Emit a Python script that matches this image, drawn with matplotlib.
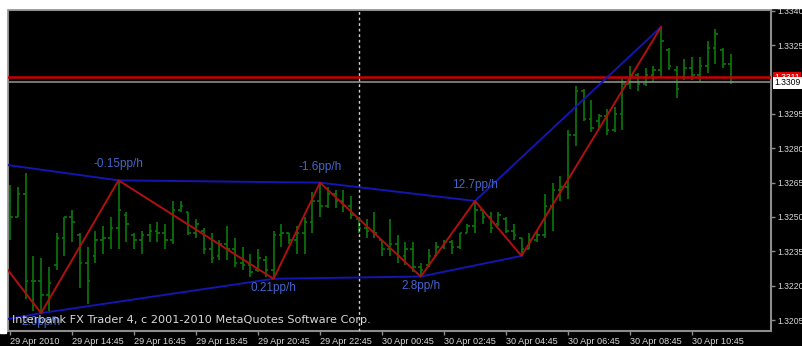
import numpy as np
import matplotlib
matplotlib.use('Agg')
import matplotlib.pyplot as plt
from matplotlib.patches import Rectangle

# EURUSD M15 bars, 29-30 Apr 2010 (bar index 0 = first bar on screen)
opens = [1.3257, 1.3250, 1.3260, 1.3222, 1.3222, 1.3216, 1.3229, 1.3241, 1.3250, 1.3242,
         1.3230, 1.3233, 1.3240, 1.3241, 1.3245, 1.3251, 1.3242, 1.3240, 1.3242, 1.3244,
         1.3243, 1.3240, 1.3253, 1.3252, 1.3243, 1.3244, 1.3236, 1.3233, 1.3238, 1.3236,
         1.3230, 1.3229, 1.3227, 1.3231, 1.3227, 1.3242, 1.3243, 1.3240, 1.3243, 1.3248,
         1.3257, 1.3255, 1.3260, 1.3257, 1.3255, 1.3249, 1.3245, 1.3244, 1.3240, 1.3236,
         1.3238, 1.3233, 1.3236, 1.3228, 1.3229, 1.3233, 1.3237, 1.3239, 1.3237, 1.3243,
         1.3246, 1.3253, 1.3250, 1.3247, 1.3249, 1.3244, 1.3241, 1.3236, 1.3240, 1.3242,
         1.3255, 1.3262, 1.3263, 1.3286, 1.3305, 1.3293, 1.3292, 1.3294, 1.3288, 1.3295,
         1.3308, 1.3312, 1.3308, 1.3312, 1.3314, 1.3323, 1.3314, 1.3311, 1.3315, 1.3312,
         1.3316, 1.3324, 1.3323, 1.3317]
highs = [1.3264, 1.3263, 1.3269, 1.3233, 1.3232, 1.3228, 1.3243, 1.3250, 1.3253, 1.3243,
         1.3237, 1.3244, 1.3246, 1.3250, 1.3266, 1.3252, 1.3243, 1.3244, 1.3247, 1.3248,
         1.3247, 1.3257, 1.3257, 1.3252, 1.3249, 1.3245, 1.3243, 1.3240, 1.3246, 1.3241,
         1.3237, 1.3234, 1.3236, 1.3233, 1.3244, 1.3247, 1.3243, 1.3246, 1.3250, 1.3261,
         1.3265, 1.3263, 1.3262, 1.3262, 1.3259, 1.3249, 1.3249, 1.3252, 1.3240, 1.3249,
         1.3242, 1.3239, 1.3239, 1.3230, 1.3236, 1.3239, 1.3240, 1.3240, 1.3243, 1.3247,
         1.3257, 1.3253, 1.3252, 1.3252, 1.3250, 1.3247, 1.3241, 1.3243, 1.3244, 1.3260,
         1.3265, 1.3268, 1.3288, 1.3307, 1.3306, 1.3301, 1.3295, 1.3297, 1.3298, 1.3311,
         1.3316, 1.3313, 1.3315, 1.3316, 1.3333, 1.3324, 1.3316, 1.3319, 1.3320, 1.3320,
         1.3327, 1.3332, 1.3324, 1.3321]
lows = [1.3240, 1.3250, 1.3214, 1.3209, 1.3208, 1.3209, 1.3227, 1.3233, 1.3239, 1.3219,
        1.3212, 1.3230, 1.3234, 1.3236, 1.3236, 1.3239, 1.3236, 1.3234, 1.3239, 1.3239,
        1.3236, 1.3238, 1.3252, 1.3242, 1.3241, 1.3234, 1.3230, 1.3231, 1.3231, 1.3228,
        1.3227, 1.3224, 1.3226, 1.3224, 1.3223, 1.3237, 1.3238, 1.3234, 1.3234, 1.3243,
        1.3250, 1.3254, 1.3254, 1.3252, 1.3249, 1.3243, 1.3241, 1.3241, 1.3233, 1.3233,
        1.3230, 1.3229, 1.3226, 1.3224, 1.3228, 1.3233, 1.3236, 1.3234, 1.3236, 1.3243,
        1.3243, 1.3247, 1.3243, 1.3246, 1.3243, 1.3240, 1.3233, 1.3236, 1.3239, 1.3241,
        1.3244, 1.3257, 1.3258, 1.3281, 1.3292, 1.3287, 1.3289, 1.3286, 1.3287, 1.3288,
        1.3306, 1.3305, 1.3307, 1.3309, 1.3311, 1.3314, 1.3302, 1.3310, 1.3310, 1.3309,
        1.3313, 1.3317, 1.3315, 1.3308]
closes = [1.3250, 1.3260, 1.3222, 1.3222, 1.3216, 1.3221, 1.3241, 1.3250, 1.3248, 1.3230,
          1.3222, 1.3240, 1.3241, 1.3245, 1.3253, 1.3247, 1.3240, 1.3242, 1.3244, 1.3243,
          1.3240, 1.3253, 1.3255, 1.3243, 1.3247, 1.3236, 1.3232, 1.3238, 1.3236, 1.3230,
          1.3229, 1.3226, 1.3232, 1.3227, 1.3242, 1.3243, 1.3240, 1.3243, 1.3248, 1.3257,
          1.3255, 1.3260, 1.3257, 1.3255, 1.3251, 1.3245, 1.3244, 1.3243, 1.3236, 1.3238,
          1.3233, 1.3236, 1.3228, 1.3227, 1.3233, 1.3237, 1.3239, 1.3237, 1.3243, 1.3246,
          1.3253, 1.3250, 1.3245, 1.3251, 1.3244, 1.3242, 1.3236, 1.3240, 1.3242, 1.3255,
          1.3262, 1.3263, 1.3286, 1.3305, 1.3293, 1.3289, 1.3294, 1.3288, 1.3295, 1.3308,
          1.3312, 1.3308, 1.3312, 1.3314, 1.3327, 1.3316, 1.3306, 1.3315, 1.3312, 1.3316,
          1.3324, 1.3330, 1.3317, 1.3309]

# ZigZag pivots (bar index, price); first point is the carry-over from off screen
zz_idx = [-1, 4, 14, 34, 40, 53, 60, 66, 84]
zz_price = [1.3230, 1.3208, 1.3266, 1.3223, 1.3265, 1.3224, 1.3257, 1.3233, 1.3333]

# channel lines through highs / lows
up_idx = [-1, 14, 40, 60, 84]
up_price = [1.3273, 1.3266, 1.3265, 1.3257, 1.3333]
lo_idx = [-1, 4, 34, 53, 66]
lo_price = [1.3205, 1.3208, 1.3223, 1.3224, 1.3233]

up_labels = ['-0.15pp/h', '-1.6pp/h', '12.7pp/h']
lo_labels = ['2.0pp/h', '0.21pp/h', '2.8pp/h']

ask = 1.3311
bid = 1.3309
cursor_bar = 45

y_ticks = [1.3340, 1.3325, 1.3295, 1.3280, 1.3265, 1.3250, 1.3235, 1.3220, 1.3205]
x_tick_bars = [0, 8, 16, 24, 32, 40, 48, 56, 64, 72, 80, 88]
x_tick_labels = ['29 Apr 2010', '29 Apr 14:45', '29 Apr 16:45', '29 Apr 18:45', '29 Apr 20:45',
                 '29 Apr 22:45', '30 Apr 00:45', '30 Apr 02:45', '30 Apr 04:45', '30 Apr 06:45',
                 '30 Apr 08:45', '30 Apr 10:45']

W, H = 803, 346
fig = plt.figure(figsize=(W / 100, H / 100), dpi=100, facecolor='black')
ax = fig.add_axes([8 / W, 1 - 331 / H, (771 - 8) / W, (331 - 10) / H])
ax.set_facecolor('black')

# white screenshot margins
fig.patches.append(Rectangle((0, 1 - 8 / H), 1, 8 / H, transform=fig.transFigure,
                             color='white', zorder=0))
fig.patches.append(Rectangle((0, 1 - 333 / H), 6 / W, 333 / H, transform=fig.transFigure,
                             color='white', zorder=0))

n = len(closes)
idx = np.arange(n)
bar_col = '#0b780b'
ax.vlines(idx, lows, highs, color=bar_col, lw=1.2, zorder=2)
ax.hlines(opens, idx - 0.35, idx, color=bar_col, lw=1.2, zorder=2)
ax.hlines(closes, idx, idx + 0.35, color=bar_col, lw=1.2, zorder=2)

ax.axhline(ask, color='#c80000', lw=1.8, zorder=3)
ax.axhline(bid, color='#8c8c8c', lw=1.2, zorder=3)
ax.axvline(cursor_bar, color='#d0d0d0', lw=1, ls=(0, (2, 2)), zorder=3)

ax.plot(up_idx, up_price, color='#1515b0', lw=1.4, zorder=4)
ax.plot(lo_idx, lo_price, color='#1515b0', lw=1.4, zorder=4)
ax.plot(zz_idx, zz_price, color='#b01010', lw=1.4, zorder=5)

lab_col = '#4466cc'
for k, txt in enumerate(up_labels):
    ax.annotate(txt, (up_idx[k + 1], up_price[k + 1]), xytext=(0, 11.5),
                textcoords='offset points', ha='center', va='center',
                color=lab_col, fontsize=8.5, family='Liberation Sans', zorder=6)
for k, txt in enumerate(lo_labels):
    ax.annotate(txt, (lo_idx[k + 1], lo_price[k + 1]), xytext=(0, -6.5),
                textcoords='offset points', ha='center', va='center',
                color=lab_col, fontsize=8.5, family='Liberation Sans', zorder=6)

ax.text(4 / 763, 6 / 321, 'Interbank FX Trader 4, c 2001-2010 MetaQuotes Software Corp.',
        transform=ax.transAxes, color='#d8d8d8', fontsize=8.1, ha='left', va='bottom',
        zorder=7)

ax.set_xlim(-0.26, 98.19)
ax.set_ylim(1.32002, 1.33404)

for s in ax.spines.values():
    s.set_color('#8c8c8c')
    s.set_linewidth(1.5)

tick_font = 'Liberation Sans'
ax.yaxis.tick_right()
ax.set_yticks(y_ticks)
ax.set_yticklabels(['%.4f' % v for v in y_ticks], family=tick_font)
ax.tick_params(axis='y', colors='#8c8c8c', labelcolor='#d8d8d8', length=3, width=1,
               labelsize=6.2, pad=1.5)
ax.set_xticks(x_tick_bars)
ax.set_xticklabels(x_tick_labels, ha='left', family=tick_font)
ax.tick_params(axis='x', colors='#8c8c8c', labelcolor='#d8d8d8', length=3, width=1,
               labelsize=6.6, pad=1)

# current price markers on the price scale
ax.text(1.004, ask, '1.3311', transform=ax.get_yaxis_transform(), color='white',
        fontsize=6.2, family=tick_font, ha='left', va='center', zorder=8,
        bbox=dict(boxstyle='square,pad=0.15', fc='#e00000', ec='none'), clip_on=False)
ax.text(1.004, bid - 0.00004, '1.3309', transform=ax.get_yaxis_transform(), color='black',
        fontsize=6.2, family=tick_font, ha='left', va='center', zorder=9,
        bbox=dict(boxstyle='square,pad=0.15', fc='white', ec='none'), clip_on=False)

fig.savefig('out.png', dpi=100, facecolor='black')
